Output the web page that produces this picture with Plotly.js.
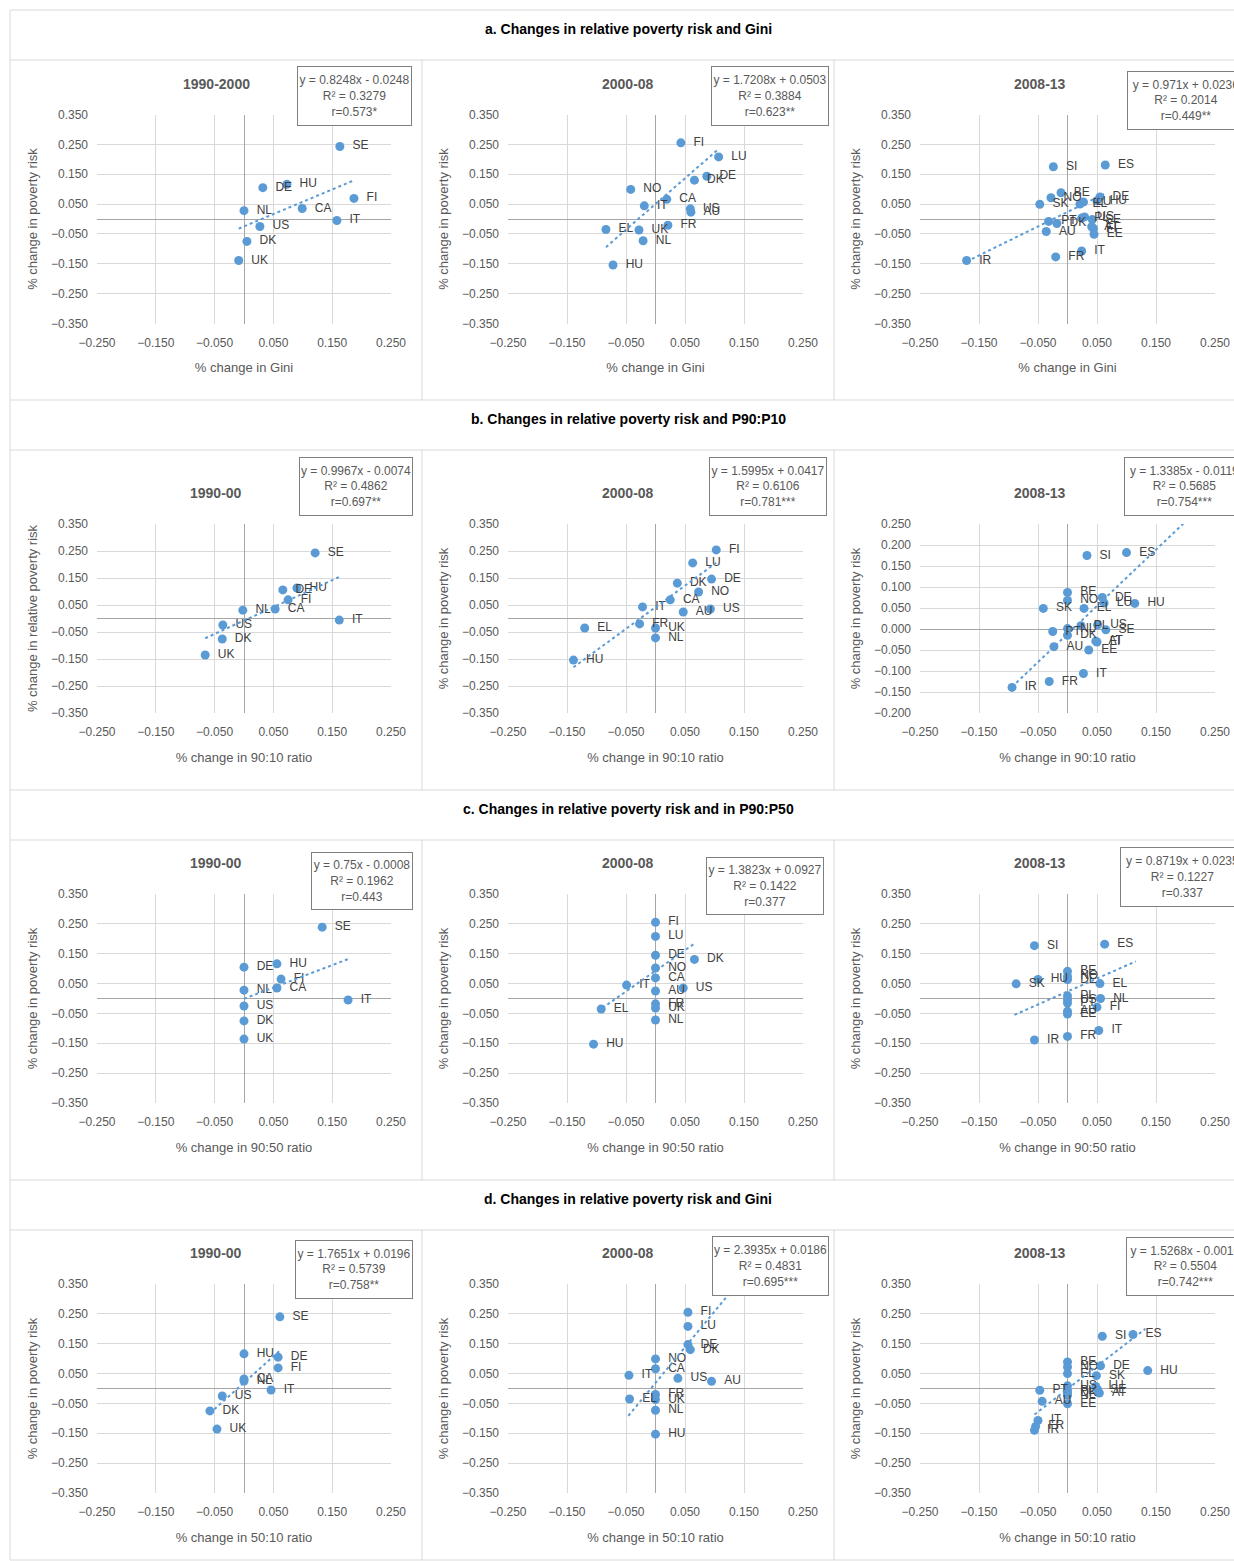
<!DOCTYPE html>
<html><head><meta charset="utf-8">
<script src="https://cdn.plot.ly/plotly-3.0.1.min.js"></script>
<style>body{margin:0;background:#fff}#c{width:1234px;height:1561px}</style>
</head><body><div id="c"></div>
<script>
// ---- DATA ----
const a1_lab=["SE","DE","HU","NL","CA","FI","IT","US","DK","UK"];
const a1_x=[0.163,0.032,0.073,0.0,0.099,0.187,0.158,0.027,0.005,-0.009];
const a1_y=[0.243,0.105,0.116,0.028,0.035,0.069,-0.005,-0.025,-0.075,-0.139];
const a2_lab=["FI","LU","DE","DK","NO","CA","IT","US","AU","FR","EL","UK","NL","HU"];
const a2_x=[0.043,0.107,0.087,0.066,-0.042,0.019,-0.019,0.059,0.060,0.021,-0.084,-0.028,-0.021,-0.072];
const a2_y=[0.255,0.208,0.143,0.130,0.099,0.066,0.044,0.034,0.023,-0.021,-0.035,-0.037,-0.073,-0.154];
const a3_lab=["SI","ES","BE","NO","SK","EL","LU","DE","HU","PT","DK","PL","US","SE","AT","FI","EE","AU","IT","FR","IR"];
const a3_x=[-0.024,0.064,-0.011,-0.028,-0.047,0.021,0.027,0.055,0.050,-0.032,-0.018,0.024,0.029,0.042,0.041,0.044,0.045,-0.036,0.024,-0.020,-0.171];
const a3_y=[0.175,0.181,0.088,0.071,0.049,0.050,0.057,0.074,0.061,-0.008,-0.015,0.003,0.007,-0.002,-0.026,-0.032,-0.051,-0.042,-0.107,-0.127,-0.139];
const b1_lab=["SE","HU","DE","FI","CA","NL","IT","US","DK","UK"];
const b1_x=[0.121,0.090,0.066,0.075,0.053,-0.002,0.162,-0.036,-0.037,-0.066];
const b1_y=[0.243,0.113,0.106,0.069,0.035,0.031,-0.006,-0.024,-0.076,-0.135];
const b2_lab=["FI","LU","DE","DK","NO","CA","IT","AU","US","EL","FR","UK","NL","HU"];
const b2_x=[0.103,0.063,0.095,0.037,0.073,0.025,-0.022,0.047,0.093,-0.120,-0.027,0.0,0.0,-0.139];
const b2_y=[0.254,0.206,0.146,0.131,0.098,0.069,0.043,0.024,0.035,-0.035,-0.020,-0.035,-0.072,-0.154];
const b3_lab=["SI","ES","BE","NO","DE","LU","HU","SK","EL","PL","US","SE","PT","NL","DK","AT","FI","AU","EE","IT","FR","IR"];
const b3_x=[0.033,0.100,0.0,0.0,0.059,0.062,0.114,-0.041,0.028,0.023,0.051,0.065,-0.025,0.0,0.0,0.048,0.050,-0.023,0.036,0.027,-0.031,-0.094];
const b3_y=[0.175,0.182,0.087,0.068,0.075,0.062,0.061,0.049,0.049,0.008,0.010,-0.002,-0.006,0.001,-0.015,-0.029,-0.031,-0.042,-0.050,-0.106,-0.125,-0.139];
const c1_lab=["SE","HU","DE","FI","CA","NL","IT","US","DK","UK"];
const c1_x=[0.133,0.056,0.0,0.063,0.056,0.0,0.177,0.0,0.0,0.0];
const c1_y=[0.239,0.116,0.105,0.065,0.035,0.028,-0.005,-0.025,-0.075,-0.136];
const c2_lab=["FI","LU","DE","DK","NO","CA","IT","AU","US","FR","UK","EL","NL","HU"];
const c2_x=[0.0,0.0,0.0,0.066,0.0,0.0,-0.049,0.0,0.047,0.0,0.0,-0.092,0.0,-0.105];
const c2_y=[0.255,0.208,0.145,0.131,0.102,0.069,0.045,0.025,0.035,-0.018,-0.032,-0.035,-0.072,-0.153];
const c3_lab=["SI","ES","BE","NO","DE","HU","SK","EL","NL","FI","PL","US","PT","AU","EE","IT","FR","IR"];
const c3_x=[-0.056,0.063,0.0,0.0,0.0,-0.050,-0.087,0.055,0.056,0.050,0.0,0.0,0.0,0.0,0.0,0.053,0.0,-0.056];
const c3_y=[0.177,0.182,0.091,0.074,0.063,0.064,0.049,0.050,0.0,-0.029,0.009,-0.004,-0.015,-0.043,-0.052,-0.107,-0.127,-0.139];
const d1_lab=["SE","HU","DE","FI","CA","NL","IT","US","DK","UK"];
const d1_x=[0.061,0.0,0.058,0.058,0.0,0.0,0.046,-0.037,-0.058,-0.046];
const d1_y=[0.240,0.116,0.105,0.069,0.032,0.025,-0.005,-0.025,-0.075,-0.136];
const d2_lab=["FI","LU","DE","DK","NO","CA","IT","US","AU","FR","UK","EL","NL","HU"];
const d2_x=[0.055,0.055,0.055,0.059,0.0,0.0,-0.045,0.038,0.095,0.0,0.0,-0.044,0.0,0.0];
const d2_y=[0.255,0.208,0.147,0.130,0.099,0.066,0.044,0.034,0.024,-0.020,-0.037,-0.035,-0.073,-0.153];
const d3_lab=["SI","ES","BE","NO","DE","EL","SK","HU","US","PL","DK","NL","EE","LU","SE","AT","PT","AU","IT","FR","IR"];
const d3_x=[0.059,0.111,0.0,0.0,0.056,0.0,0.049,0.136,0.0,0.0,0.0,0.0,0.0,0.048,0.051,0.054,-0.047,-0.043,-0.050,-0.054,-0.056];
const d3_y=[0.175,0.181,0.089,0.072,0.076,0.050,0.043,0.060,0.009,-0.007,-0.015,-0.023,-0.051,0.007,-0.004,-0.015,-0.006,-0.043,-0.107,-0.127,-0.140];
// regression (slope, intercept) and trendline x extents
const slopes=[0.8248,1.7208,0.971,0.9967,1.5995,1.3385,0.75,1.3823,0.8719,1.7651,2.3935,1.5268];
const intercepts=[-0.0248,0.0503,0.0236,-0.0074,0.0417,-0.0119,-0.0008,0.0927,0.0235,0.0196,0.0186,-0.0016];
const trendX=[[-0.009,0.187],[-0.084,0.107],[-0.171,0.064],[-0.066,0.162],[-0.139,0.103],[-0.094,0.20],[0,0.177],[-0.09,0.066],[-0.09,0.116],[-0.058,0.061],[-0.046,0.12],[-0.056,0.132]];
const eqText=["y = 0.8248x - 0.0248<br>R² = 0.3279<br>r=0.573*","y = 1.7208x + 0.0503<br>R² = 0.3884<br>r=0.623**","y = 0.971x + 0.0236<br>R² = 0.2014<br>r=0.449**",
"y = 0.9967x - 0.0074<br>R² = 0.4862<br>r=0.697**","y = 1.5995x + 0.0417<br>R² = 0.6106<br>r=0.781***","y = 1.3385x - 0.0119<br>R² = 0.5685<br>r=0.754***",
"y = 0.75x - 0.0008<br>R² = 0.1962<br>r=0.443","y = 1.3823x + 0.0927<br>R² = 0.1422<br>r=0.377","y = 0.8719x + 0.0235<br>R² = 0.1227<br>r=0.337",
"y = 1.7651x + 0.0196<br>R² = 0.5739<br>r=0.758**","y = 2.3935x + 0.0186<br>R² = 0.4831<br>r=0.695***","y = 1.5268x - 0.0016<br>R² = 0.5504<br>r=0.742***"];
const panelTitles=["1990-2000","2000-08","2008-13","1990-00","2000-08","2008-13","1990-00","2000-08","2008-13","1990-00","2000-08","2008-13"];
const sectionTitles=["a. Changes in relative poverty risk and Gini","b. Changes in relative poverty risk and P90:P10","c. Changes in relative poverty risk and in P90:P50","d. Changes in relative poverty risk and Gini"];
const xTitles=["% change in Gini","% change in 90:10 ratio","% change in 90:50 ratio","% change in 50:10 ratio"];
const yTitle="% change in poverty risk", yTitleB1="% change in relative poverty risk";

const sets=[[a1_lab,a1_x,a1_y],[a2_lab,a2_x,a2_y],[a3_lab,a3_x,a3_y],[b1_lab,b1_x,b1_y],[b2_lab,b2_x,b2_y],[b3_lab,b3_x,b3_y],
[c1_lab,c1_x,c1_y],[c2_lab,c2_x,c2_y],[c3_lab,c3_x,c3_y],[d1_lab,d1_x,d1_y],[d2_lab,d2_x,d2_y],[d3_lab,d3_x,d3_y]];

// ---- LAYOUT ----
const W=1234,H=1561;
const px=v=>v/W, py=v=>1-v/H;
const colX=[[97,391],[508,803],[920,1215]];
const rowY=[[114.5,323.5],[524,713],[894,1103],[1284,1493]];
const secY=[[10,60],[400,450],[790,840],[1180,1230]];
const boxes=[[297,412,66,126],[711,829,66,126],[1127,1245,71,130],[299,413,457,516],[709,827,457,516],[1124,1245,457,516],
[311,413,852,910],[706,824,857,915],[1120,1245,847,907],[295,413,1240,1299],[712,829,1236,1296],[1126,1245,1237,1296]];
const FONT="Liberation Sans Narrow, Liberation Sans, Arial, sans-serif";
const blue="#5b9bd5", txt="#595959";
const traces=[], layout={width:W,height:H,margin:{l:0,r:0,t:0,b:0},paper_bgcolor:"#fff",plot_bgcolor:"#fff",showlegend:false,
 font:{family:FONT,color:txt,size:12},annotations:[],shapes:[]};
for(let i=0;i<12;i++){
 const r=Math.floor(i/3), c=i%3, n=i+1, ax=n===1?"":n;
 const [lab,xs,ys]=sets[i];
 traces.push({type:"scatter",mode:"markers+text",x:xs,y:ys,text:lab.map(s=>"\u2002"+s),textposition:"middle right",
  textfont:{family:FONT,size:12,color:"#404040"},marker:{color:blue,size:9},xaxis:"x"+ax,yaxis:"y"+ax,cliponaxis:false,hoverinfo:"skip"});
 const tx=trendX[i];
 traces.push({type:"scatter",mode:"lines",x:tx,y:tx.map(v=>slopes[i]*v+intercepts[i]),line:{color:blue,width:2,dash:"dot"},
  xaxis:"x"+ax,yaxis:"y"+ax,hoverinfo:"skip"});
 const yb=(i===5);
 layout["xaxis"+ax]={domain:[px(colX[c][0]),px(colX[c][1])],anchor:"y"+ax,range:[-0.25,0.25],tick0:-0.25,dtick:0.1,tickformat:".3f",
  showgrid:true,gridcolor:"#d9d9d9",zeroline:true,zerolinecolor:"#a6a6a6",zerolinewidth:1,showline:false,ticks:"",ticklabelstandoff:10,
  tickfont:{size:12,color:txt},title:{text:xTitles[r],font:{size:13,color:txt},standoff:14}};
 layout["yaxis"+ax]={domain:[py(rowY[r][1]),py(rowY[r][0])],anchor:"x"+ax,range:yb?[-0.2,0.25]:[-0.35,0.35],tick0:yb?0:-0.35,dtick:yb?0.05:0.1,
  tickformat:".3f",showgrid:true,gridcolor:"#d9d9d9",zeroline:true,zerolinecolor:"#a6a6a6",zerolinewidth:1,showline:false,ticks:"",ticklabelstandoff:8,
  tickfont:{size:12,color:txt},title:{text:i===3?yTitleB1:yTitle,font:{size:13,color:txt},standoff:10}};
 const cx=[216,628,1040][c];
 layout.annotations.push({xref:"paper",yref:"paper",x:px(cx),y:py(rowY[r][0]-31),text:"<b>"+panelTitles[i]+"</b>",showarrow:false,
  font:{size:14,color:txt},xanchor:"center",yanchor:"middle"});
 const b=boxes[i];
 layout.annotations.push({xref:"paper",yref:"paper",x:px((b[0]+b[1])/2),y:py((b[2]+b[3])/2),text:eqText[i],showarrow:false,
  width:b[1]-b[0]-4,height:b[3]-b[2]-4,bordercolor:"#7f7f7f",borderwidth:1,borderpad:1,bgcolor:"#fff",
  font:{size:12,color:txt},xanchor:"center",yanchor:"middle",align:"center"});
}
const lc="#d9d9d9";
for(let s=0;s<4;s++){
 layout.annotations.push({xref:"paper",yref:"paper",x:px(628),y:py((secY[s][0]+secY[s][1])/2-6),text:"<b>"+sectionTitles[s]+"</b>",showarrow:false,
  font:{size:14,color:"#000"},xanchor:"center",yanchor:"middle"});
 for(const yy of secY[s]) layout.shapes.push({type:"line",xref:"paper",yref:"paper",x0:px(10),x1:1,y0:py(yy),y1:py(yy),line:{color:lc,width:1}});
 const top=secY[s][1], bot=s<3?secY[s+1][0]:1560;
 for(const xx of [10,422,834]) layout.shapes.push({type:"line",xref:"paper",yref:"paper",x0:px(xx),x1:px(xx),y0:py(top),y1:py(bot),line:{color:lc,width:1}});
 layout.shapes.push({type:"line",xref:"paper",yref:"paper",x0:px(10),x1:px(10),y0:py(secY[s][0]),y1:py(secY[s][1]),line:{color:lc,width:1}});
}
layout.shapes.push({type:"line",xref:"paper",yref:"paper",x0:px(10),x1:1,y0:py(1560),y1:py(1560),line:{color:lc,width:1}});
Plotly.newPlot("c",traces,layout,{staticPlot:true});
</script></body></html>
